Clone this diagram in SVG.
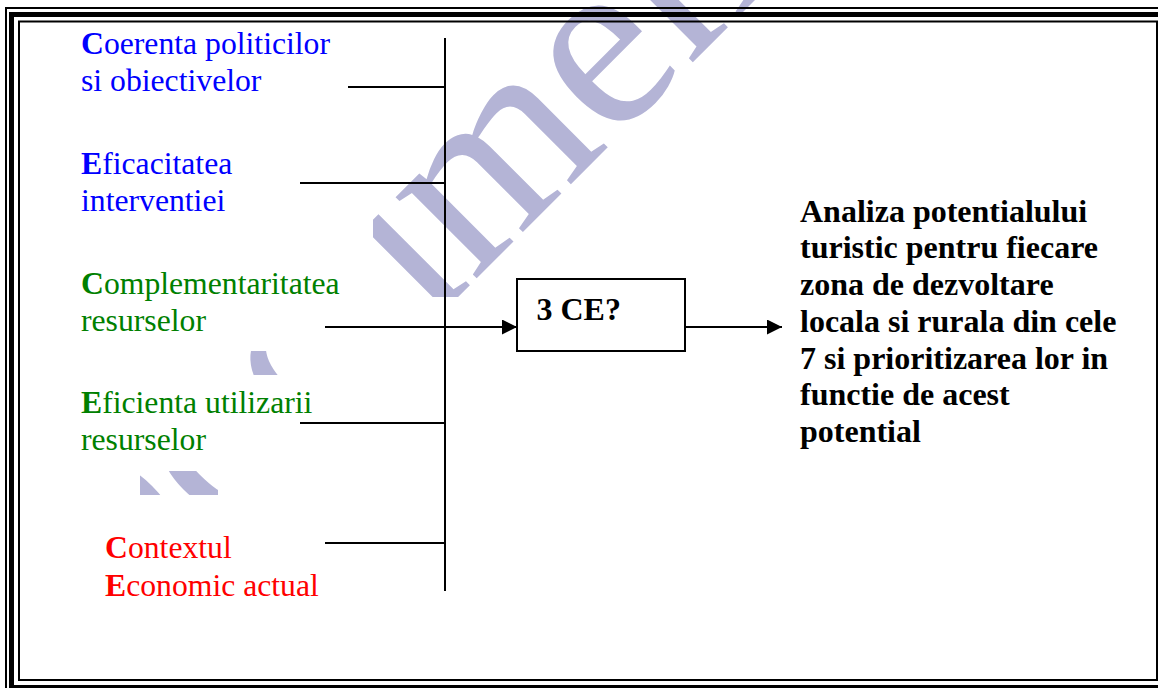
<svg xmlns="http://www.w3.org/2000/svg" width="1158" height="688" viewBox="0 0 1158 688">
<style>
.lbl{font-family:"Liberation Serif","Times New Roman",serif;font-size:31.7px}
.b{font-weight:bold}
.blue{fill:#0000ff}.green{fill:#008000}.red{fill:#ff0000}
.rt{font-family:"Liberation Serif","Times New Roman",serif;font-size:32px;font-weight:bold;fill:#000}
.ln{stroke:#000;stroke-width:2;fill:none}
.wm{font-family:"Liberation Serif","Times New Roman",serif;font-size:250px;fill:#b4b4d6}
</style>
<defs>
<marker id="ah" markerUnits="userSpaceOnUse" markerWidth="16" markerHeight="16" refX="15" refY="7.5" orient="auto">
<path d="M0,0 L15,7.5 L0,15 Z" fill="#000"/>
</marker>
<clipPath id="wmclip">
<rect x="373" y="0" width="417" height="297"/>
<rect x="110" y="351" width="236" height="24"/>
<rect x="140" y="471" width="78" height="24"/>
</clipPath>
</defs>
<rect width="1158" height="688" fill="#fff"/>
<g id="watermark" clip-path="url(#wmclip)">
<text class="wm" transform="translate(90,665) rotate(-45)">Documente</text>
</g>
<g id="border" fill="none" stroke="#000">
<rect x="6" y="8" width="1200" height="700" stroke-width="2"/>
<rect x="11.5" y="14.5" width="1170" height="673" stroke-width="5"/>
<rect x="19" y="21.5" width="1138" height="658.5" stroke-width="2"/>
</g>
<g id="connectors">
<line class="ln" x1="445" y1="38" x2="445" y2="591"/>
<line class="ln" x1="348" y1="87" x2="445" y2="87"/>
<line class="ln" x1="300" y1="183" x2="445" y2="183"/>
<line class="ln" x1="325" y1="327" x2="517" y2="327" marker-end="url(#ah)"/>
<line class="ln" x1="300" y1="423" x2="445" y2="423"/>
<line class="ln" x1="325" y1="543" x2="445" y2="543"/>
<line class="ln" x1="685" y1="327" x2="782" y2="327" marker-end="url(#ah)"/>
</g>
<g id="n1"><text class="lbl blue" x="81" y="54"><tspan class="b">C</tspan>oerenta politicilor</text><text class="lbl blue" x="81" y="90.7">si obiectivelor</text></g>
<g id="n2"><text class="lbl blue" x="81" y="174"><tspan class="b">E</tspan>ficacitatea</text><text class="lbl blue" x="81" y="211">interventiei</text></g>
<g id="n3"><text class="lbl green" x="81" y="294"><tspan class="b">C</tspan>omplementaritatea</text><text class="lbl green" x="81" y="331">resurselor</text></g>
<g id="n4"><text class="lbl green" x="81" y="413"><tspan class="b">E</tspan>ficienta utilizarii</text><text class="lbl green" x="81" y="450">resurselor</text></g>
<g id="n5"><text class="lbl red" x="105" y="558"><tspan class="b">C</tspan>ontextul</text><text class="lbl red" x="105" y="595.5"><tspan class="b">E</tspan>conomic actual</text></g>
<g id="box">
<rect x="517" y="279" width="168" height="72" fill="#fff" stroke="#000" stroke-width="2"/>
<text class="rt" x="536.5" y="320">3 CE?</text>
</g>
<g id="result">
<text class="rt" x="800" y="221.7">Analiza potentialului</text>
<text class="rt" x="800" y="258.4">turistic pentru fiecare</text>
<text class="rt" x="800" y="295.1">zona de dezvoltare</text>
<text class="rt" x="800" y="331.8">locala si rurala din cele</text>
<text class="rt" x="800" y="368.5">7 si prioritizarea lor in</text>
<text class="rt" x="800" y="405.2">functie de acest</text>
<text class="rt" x="800" y="441.9">potential</text>
</g>
</svg>
